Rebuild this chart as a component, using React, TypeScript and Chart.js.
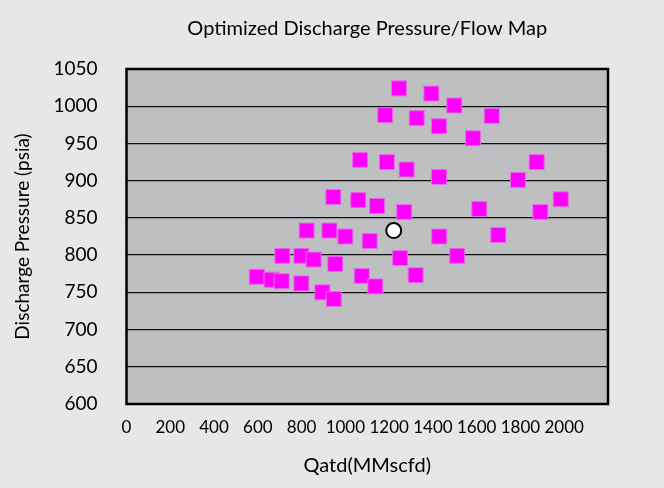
import React, { useEffect, useRef } from "react";
import { Chart, registerables } from "chart.js";

Chart.register(...registerables);

// Flow (MMscfd) and discharge pressure (psia) of the candidate map points
const flowValues = [
  1245, 1393, 1498, 1182, 1326, 1428, 1669, 1583,
  1067, 1190, 1280, 1428, 1874, 1789,
  945, 1059, 1145, 1269, 1612, 1984, 1891,
  823, 927, 1000, 1111, 1429, 1699,
  712, 799, 855, 954, 1250, 1511,
  595, 663, 709, 799, 1075, 1321, 1137, 895, 947,
];
const pressureValues = [
  1024, 1017, 1001, 988, 984, 973, 987, 957,
  928, 925, 915, 905, 925, 901,
  878, 874, 866, 858, 862, 875, 858,
  833, 833, 825, 819, 825, 827,
  799, 799, 794, 788, 796, 799,
  771, 767, 765, 762, 772, 773, 758, 750, 741,
];
// Current operating point
const operatingFlow = [1221];
const operatingPressure = [833];

const xTickValues = [0, 200, 400, 600, 800, 1000, 1200, 1400, 1600, 1800, 2000];
const yTickValues = [600, 650, 700, 750, 800, 850, 900, 950, 1000, 1050];

const chartTitle = "Optimized Discharge Pressure/Flow Map";
const xTitle = "Qatd(MMscfd)";
const yTitle = "Discharge Pressure (psia)";

const FONT = "Lato, 'Open Sans', sans-serif";

const framePlugin = {
  id: "frame",
  beforeDraw(chart: any) {
    const { ctx, chartArea, width, height } = chart;
    ctx.save();
    ctx.fillStyle = "#e6e7e9";
    ctx.fillRect(0, 0, width, height);
    ctx.fillStyle = "#bebfc1";
    ctx.fillRect(chartArea.left, chartArea.top, chartArea.right - chartArea.left, chartArea.bottom - chartArea.top);
    ctx.restore();
  },
  afterDatasetsDraw(chart: any) {
    const { ctx, chartArea } = chart;
    ctx.save();
    ctx.strokeStyle = "#000";
    ctx.lineWidth = 2.5;
    ctx.strokeRect(chartArea.left, chartArea.top, chartArea.right - chartArea.left, chartArea.bottom - chartArea.top);
    ctx.restore();
  },
};

export default function App() {
  const canvasRef = useRef<HTMLCanvasElement | null>(null);

  useEffect(() => {
    document.body.style.margin = "0";
    const canvas = canvasRef.current;
    if (!canvas) return;

    const squares = flowValues.map((x, i) => ({ x, y: pressureValues[i] }));
    const operating = operatingFlow.map((x, i) => ({ x, y: operatingPressure[i] }));

    const chart = new Chart(canvas, {
      type: "scatter",
      data: {
        datasets: [
          {
            label: "Operating point",
            data: operating,
            order: 0,
            pointStyle: "circle",
            pointRadius: 7.5,
            pointBackgroundColor: "#ffffff",
            pointBorderColor: "#000000",
            pointBorderWidth: 2,
          },
          {
            label: "Map points",
            data: squares,
            order: 1,
            pointStyle: "rect",
            pointRadius: 10.6,
            pointBackgroundColor: "#ff00ff",
            pointBorderColor: "#e070e0",
            pointBorderWidth: 1,
          },
        ],
      },
      options: {
        responsive: false,
        animation: false,
        layout: { padding: { left: 0, right: 56, top: 0, bottom: 0 } },
        plugins: {
          legend: { display: false },
          tooltip: { enabled: false },
          title: {
            display: true,
            fullSize: false,
            text: chartTitle,
            color: "#000",
            font: { family: FONT, size: 20, weight: "normal" },
            padding: { top: 17, bottom: 28 },
          },
        },
        scales: {
          x: {
            type: "linear",
            min: 0,
            max: 2200,
            afterBuildTicks: (axis: any) => {
              axis.ticks = xTickValues.map((v) => ({ value: v }));
            },
            afterFit: (scale: any) => {
              scale.height = 84;
            },
            grid: { display: false, drawTicks: false },
            border: { display: false },
            ticks: {
              color: "#000",
              font: { family: FONT, size: 17 },
              padding: 13,
              maxRotation: 0,
              autoSkip: false,
              callback: (v: any) => String(v),
            },
            title: {
              display: true,
              text: xTitle,
              color: "#000",
              font: { family: FONT, size: 20 },
              padding: { top: 0, bottom: 10 },
            },
          },
          y: {
            type: "linear",
            min: 600,
            max: 1050,
            afterBuildTicks: (axis: any) => {
              axis.ticks = yTickValues.map((v) => ({ value: v }));
            },
            afterFit: (scale: any) => {
              scale.width = 126.5;
            },
            grid: { display: true, drawTicks: false, color: "#111", lineWidth: 1.3 },
            border: { display: false },
            ticks: {
              color: "#000",
              font: { family: FONT, size: 19 },
              padding: 29,
              autoSkip: false,
              callback: (v: any) => String(v),
            },
            title: {
              display: true,
              text: yTitle,
              color: "#000",
              font: { family: FONT, size: 19 },
              padding: { top: 11, bottom: 10 },
            },
          },
        },
      },
      plugins: [framePlugin],
    });

    return () => {
      chart.destroy();
    };
  }, []);

  return (
    <div style={{ position: "fixed", left: 0, top: 0, width: 664, height: 488, background: "#e6e7e9" }}>
      <canvas ref={canvasRef} width={664} height={488} style={{ display: "block" }} />
    </div>
  );
}
